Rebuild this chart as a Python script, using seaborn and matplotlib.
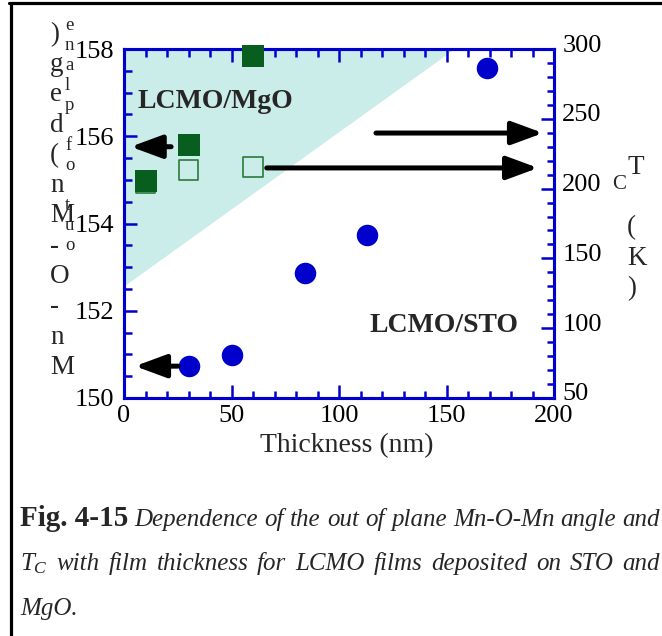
import numpy as np
import matplotlib
matplotlib.use("Agg")
import matplotlib.pyplot as plt
import seaborn as sns
from matplotlib.lines import Line2D
from matplotlib.patches import Polygon
from matplotlib.ticker import MultipleLocator
from matplotlib.transforms import ScaledTranslation

# ---------------- data ----------------
mgo_thickness = [10, 30, 60]
mgo_angle = [154.97, 155.79, 157.83]          # filled squares, left axis
mgo_tc_thickness = [10, 30, 60]
mgo_tc = [203.8, 213.3, 215.7]                # open squares, right axis
sto_thickness = [30, 50, 84, 113, 169]
sto_tc = [72.9, 80.6, 139.8, 166.5, 286.2]    # blue circles, right axis
region_thickness = [0, 154, 0]
region_angle = [158, 158, 152.55]

x_label = "Thickness (nm)"
left_label_main = "Mn-O-Mn(deg)"
left_label_sub = "out of plane"
right_label_main = "T (K)"
right_label_sub = "C"
caption_line1 = ["Dependence", "of", "the", "out", "of", "plane", "Mn-O-Mn", "angle", "and"]
caption_line2 = ["$T_C$", "with", "film", "thickness", "for", "LCMO", "films", "deposited", "on", "STO", "and"]
caption_line3 = "MgO."
caption_head = "Fig. 4-15"

# ---------------- style ----------------
sns.set_style("white")
plt.rcParams["font.family"] = ["Liberation Serif", "DejaVu Serif"]
plt.rcParams["mathtext.fontset"] = "custom"
plt.rcParams["mathtext.it"] = "Liberation Serif:italic"
plt.rcParams["mathtext.rm"] = "Liberation Serif"

BLUE = "#0000cc"
GREEN = "#075e1f"
OPEN_GREEN = "#2a7a3a"
TEAL = "#cbede9"

W, H = 662, 636
fig = plt.figure(figsize=(W / 100, H / 100), dpi=100)
fig.patch.set_facecolor("white")

ax = fig.add_axes([124 / W, 1 - 398 / H, 430 / W, 349 / H])
ax2 = ax.twinx()
ax.set_zorder(ax2.get_zorder() + 1)
ax.patch.set_visible(False)
ax2.patch.set_facecolor("white")

# shaded MgO region (left-axis coordinates)
ax2.add_patch(Polygon(np.column_stack([region_thickness, region_angle]),
                      closed=True, facecolor=TEAL, edgecolor="none",
                      transform=ax.transData, zorder=0))

# right-axis series
sns.scatterplot(x=mgo_tc_thickness, y=mgo_tc, ax=ax2, marker="s", s=200,
                color=OPEN_GREEN, facecolor="none", edgecolor=OPEN_GREEN,
                linewidth=1.2, zorder=3, legend=False)
sns.scatterplot(x=sto_thickness, y=sto_tc, ax=ax2, marker="o", s=240,
                color=BLUE, edgecolor=BLUE, linewidth=0, zorder=3, legend=False)

# left-axis series
sns.scatterplot(x=mgo_thickness, y=mgo_angle, ax=ax, marker="s", s=245,
                color=GREEN, edgecolor=GREEN, linewidth=0, zorder=4,
                clip_on=False, legend=False)

ax.set_xlim(0, 200)
ax.set_ylim(150, 158)
ax2.set_ylim(50, 300)

ax.xaxis.set_major_locator(MultipleLocator(50))
ax.xaxis.set_minor_locator(MultipleLocator(10))
ax.yaxis.set_major_locator(MultipleLocator(2))
ax.yaxis.set_minor_locator(MultipleLocator(0.5))
ax2.yaxis.set_major_locator(MultipleLocator(50))
ax2.yaxis.set_minor_locator(MultipleLocator(10))

for a in (ax, ax2):
    for sp in a.spines.values():
        sp.set_color(BLUE)
        sp.set_linewidth(2.2)
        sp.set_visible(True)

ax.tick_params(which="both", direction="in", top=True, bottom=True, left=True,
               right=False, color=BLUE, width=1.8, labelsize=19, labelcolor="black")
ax.tick_params(which="major", length=9.4)
ax.tick_params(which="minor", length=5.4)
ax.tick_params(axis="x", pad=5)
ax.tick_params(axis="y", pad=7)
ax2.tick_params(axis="y", which="both", direction="in", left=False, right=True,
                color=BLUE, width=1.8, labelsize=19, labelcolor="black", pad=6)
ax2.tick_params(axis="y", which="major", length=9.4)
ax2.tick_params(axis="y", which="minor", length=5.4)
ax.grid(False)
ax2.grid(False)

# x label
ax.set_xlabel(x_label, fontsize=20)
ax.xaxis.set_label_coords((346.5 - 124) / 430, (398 - 452) / 349)
ax.xaxis.label.set_va("baseline")
ax.set_ylabel("")
ax2.set_ylabel("")

# region labels
ax.text(6.5, 156.65, "LCMO/MgO", fontsize=20, fontweight="bold", va="baseline", ha="left", zorder=5)
ax.text(114.4, 151.51, "LCMO/STO", fontsize=20, fontweight="bold", va="baseline", ha="left", zorder=5)

# arrows
arrow_kw = dict(arrowstyle="-|>,head_length=1.9,head_width=0.7", color="black",
                lw=3.6, shrinkA=0, shrinkB=0, mutation_scale=10)
ax.annotate("", xy=(3.1, 155.76), xytext=(21.9, 155.76), arrowprops=arrow_kw)
ax.annotate("", xy=(5.1, 150.73), xytext=(25.1, 150.73), arrowprops=arrow_kw)
ax2.annotate("", xy=(194.9, 239.8), xytext=(117.2, 239.8), arrowprops=arrow_kw)
ax2.annotate("", xy=(192.6, 214.8), xytext=(66.4, 214.8), arrowprops=arrow_kw)


# stacked axis labels (characters stacked vertically)
def stack(text, x_px, base_bottom_px, step_px, size, bottom_first=True):
    chars = text if bottom_first else text[::-1]
    for i, ch in enumerate(chars):
        if ch == " ":
            continue
        fig.text(x_px / W, 1 - (base_bottom_px - i * step_px) / H, ch,
                 fontsize=size, ha="left", va="baseline")


stack(left_label_main, 50, 374, 30.3, 19.5, bottom_first=True)
stack(left_label_sub, 65, 250.4, 20, 13.5, bottom_first=True)
stack(right_label_main, 627, 295, 30.3, 19.5, bottom_first=False)
fig.text(612 / W, 1 - 189 / H, right_label_sub, fontsize=15, ha="left", va="baseline")

# figure border (left and top)
fig.add_artist(Line2D([10.5 / W, 10.5 / W], [0, 1 - 3.3 / H], color="black", lw=2.3,
                      transform=fig.transFigure))
fig.add_artist(Line2D([9.3 / W, 1], [1 - 3.3 / H, 1 - 3.3 / H], color="black", lw=2.3,
                      transform=fig.transFigure))

# caption with justified lines
renderer = fig.canvas.get_renderer()


def justify(items, base_px, x0=20, x1=660):
    texts = [fig.text(0, 1 - base_px / H, s, va="baseline", ha="left", **kw) for s, kw in items]
    widths = [t.get_window_extent(renderer).width for t in texts]
    gap = (x1 - x0 - sum(widths)) / (len(texts) - 1)
    x = x0
    for t, w in zip(texts, widths):
        t.set_x(x / W)
        x += w + gap


IT = dict(fontsize=18, fontstyle="italic")
justify([(caption_head, dict(fontsize=21, fontweight="bold"))] + [(w, IT) for w in caption_line1], 526)
justify([(w, IT) for w in caption_line2], 570)
fig.text(20 / W, 1 - 615 / H, caption_line3, va="baseline", ha="left", **IT)

# right tick labels sit slightly higher in the reference
shift = ScaledTranslation(0, 6 / 100, fig.dpi_scale_trans)
for lab in ax2.get_yticklabels():
    lab.set_transform(lab.get_transform() + shift)

fig.savefig("out.png", dpi=100, facecolor="white")
